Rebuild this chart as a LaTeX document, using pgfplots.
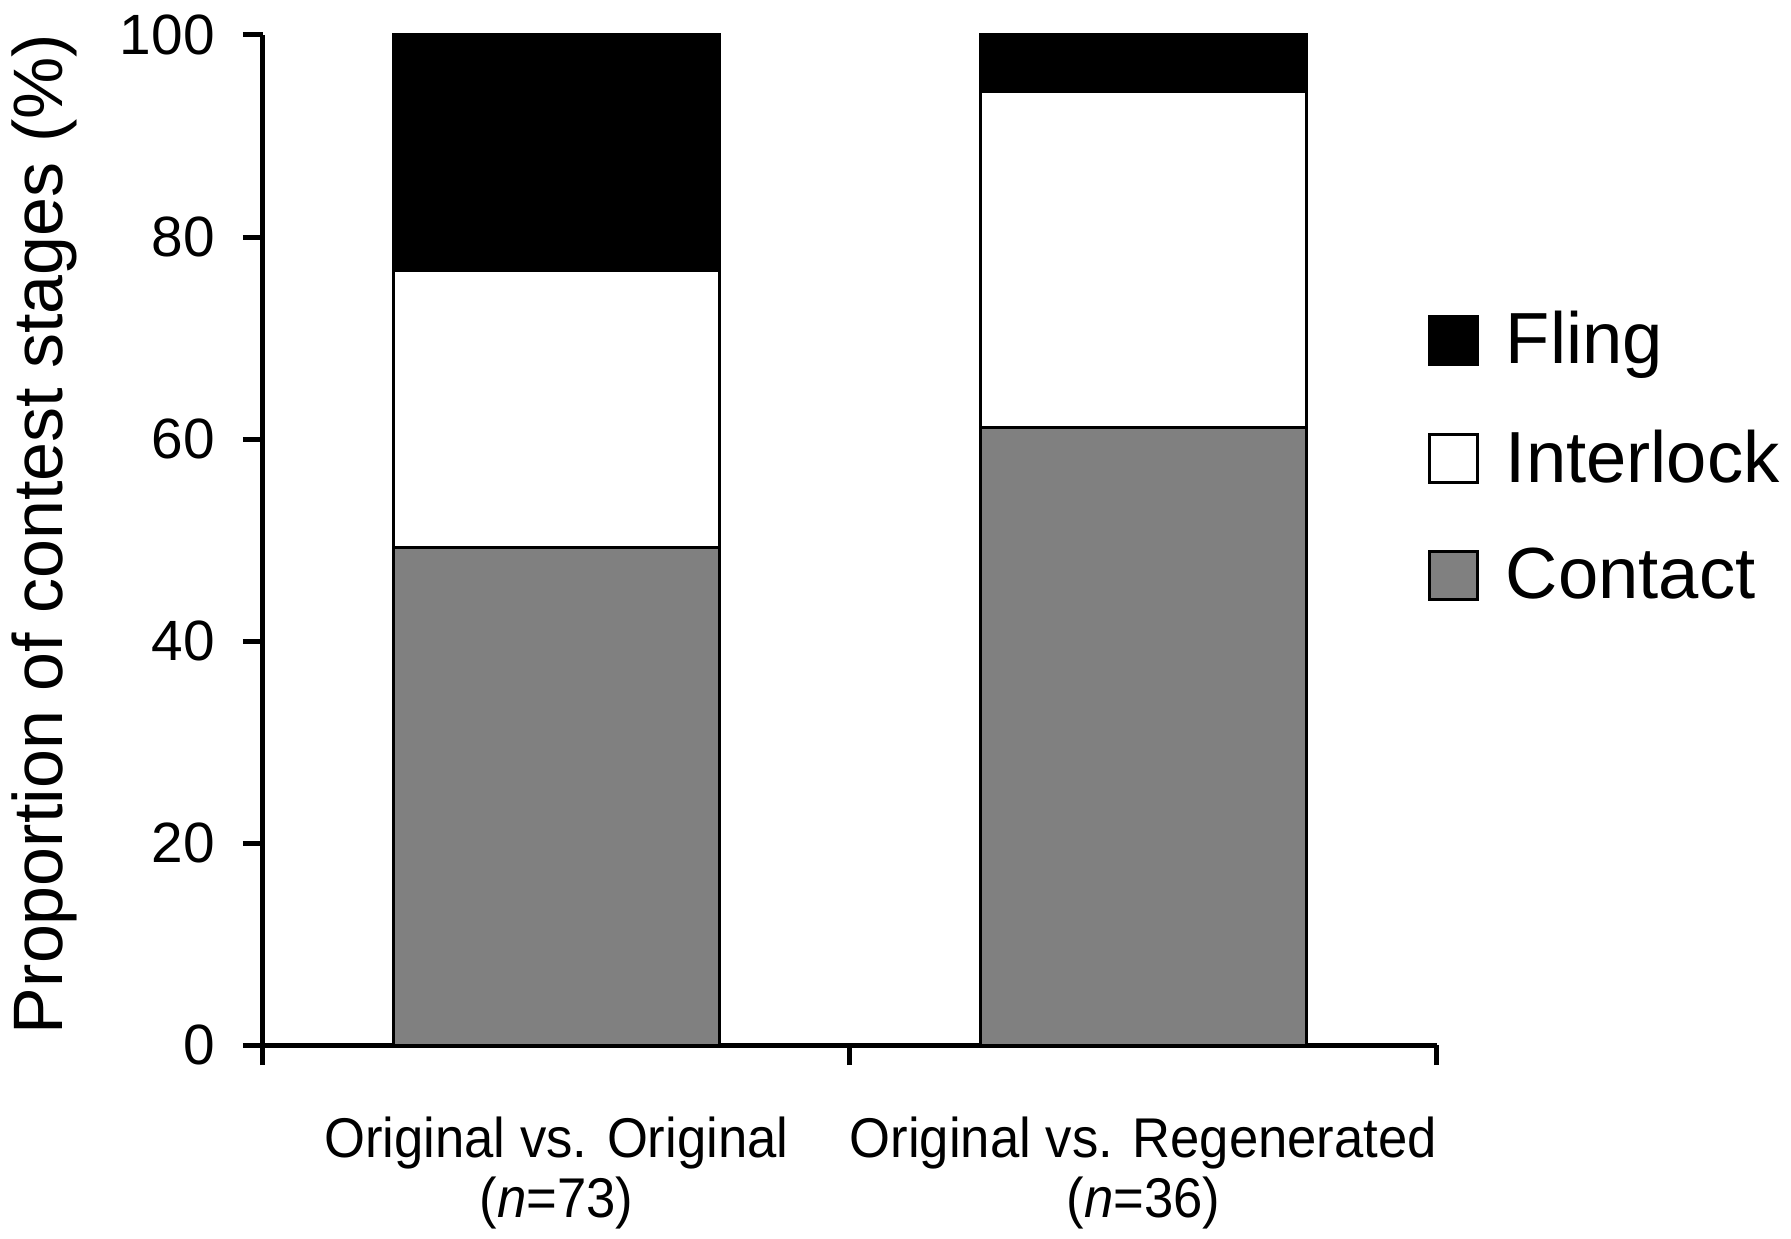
\documentclass[border=0pt]{standalone}
\usepackage{fontspec}
\setmainfont{Liberation Sans}
\newfontfamily\narrowfont[FakeStretch=0.94]{Liberation Sans}
\usepackage{pgfplots}
\pgfplotsset{compat=1.18}
\begin{document}
\begin{tikzpicture}
\useasboundingbox (-65.7pt,-48.25pt) rectangle (382pt,261.25pt);
\begin{axis}[
  at={(0,0)}, anchor=south west,
  scale only axis,
  width=293.5pt, height=252.5pt,
  ybar stacked, bar shift=0pt, bar width=0.555,
  xmin=0, xmax=2, ymin=0, ymax=100,
  clip=false,
  axis lines=left,
  axis line style={-, line width=1.25pt},
  tick align=outside,
  major tick length=5pt,
  ytick={0,20,40,60,80,100},
  y tick style={line width=1.25pt, black},
  xtick={0.5,1.5},
  xticklabels={{Original vs. Original\\(\textit{n}=73)},{Original vs. Regenerated\\(\textit{n}=36)}},
  x tick style={draw=none},
  extra x ticks={0,1,2},
  extra x tick labels={},
  extra x tick style={x tick style={draw=black, line width=1.25pt}, major tick length=5pt},
  xticklabel style={font=\narrowfont\fontsize{14}{15}\selectfont, align=center, anchor=north, yshift=-9.4pt},
  yticklabel style={font=\fontsize{14.2}{16}\selectfont, xshift=-3.5pt},
  /pgf/number format/assume math mode=true,
  ylabel={Proportion of contest stages (\%)},
  ylabel style={at={([xshift=-54.7pt]rel axis cs:0,0.506)}, anchor=center, font=\fontsize{17.5}{20}\selectfont},
  reverse legend,
  legend cell align=left,
  legend image code/.code={\draw[#1, line width=0.75pt] (0pt,-6pt) rectangle (12pt,6pt); \path[draw=none, fill=none] (0pt,0pt) -- (17pt,0pt);},
  legend style={at={(rel axis cs:0.992,0.735)}, anchor=north west, draw=none, fill=none,
    font=\fontsize{18.1}{20}\selectfont, row sep=10.9pt, inner sep=0pt,
    nodes={inner sep=2pt}},
]
\addplot[fill=black!50, draw=black, line width=0.75pt] coordinates {(0.5,49.3) (1.5,61.1)};
\addlegendentry{Contact}
\addplot[fill=white, draw=black, line width=0.75pt] coordinates {(0.5,27.4) (1.5,33.3)};
\addlegendentry{Interlock}
\addplot[fill=black, draw=black, line width=0.75pt] coordinates {(0.5,23.3) (1.5,5.6)};
\addlegendentry{Fling}
\end{axis}
\end{tikzpicture}
\end{document}
